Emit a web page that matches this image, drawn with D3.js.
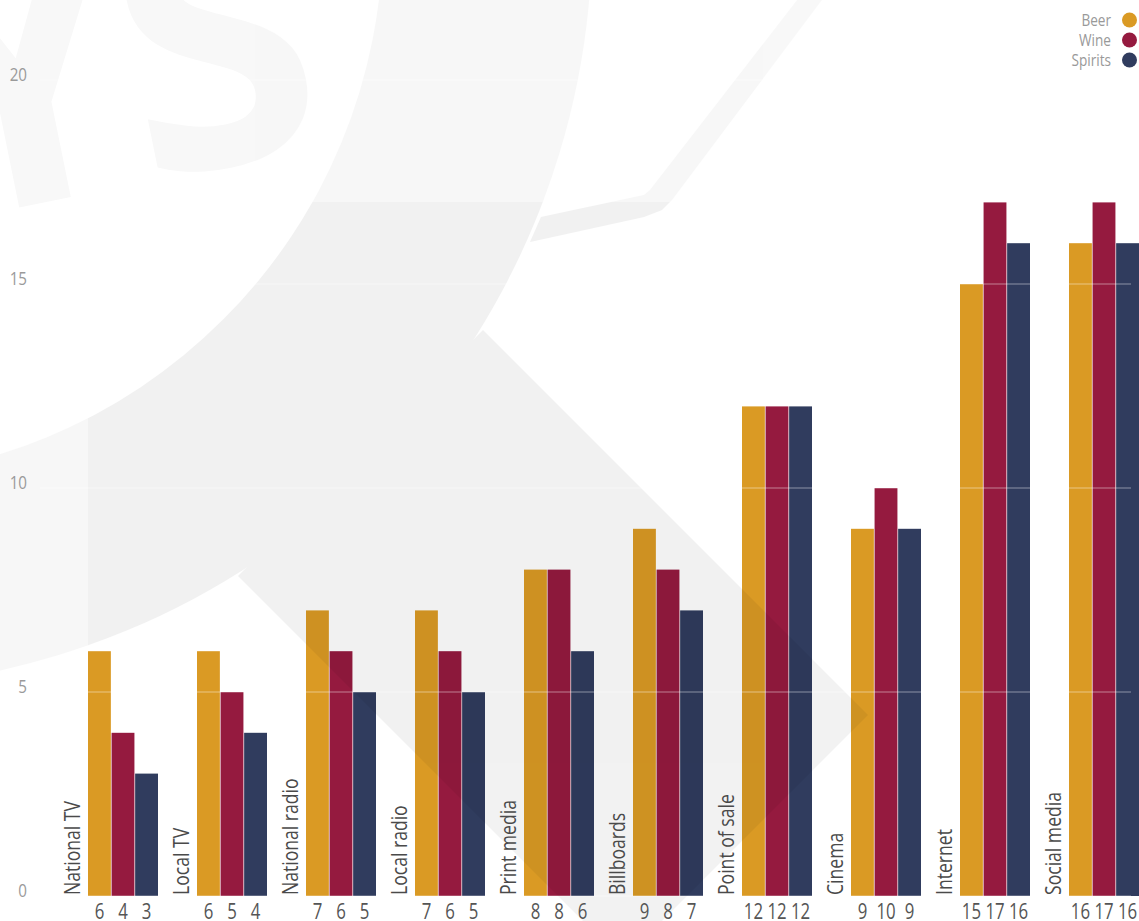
<!DOCTYPE html>
<html>
<head>
<meta charset="utf-8">
<script src="https://cdn.jsdelivr.net/npm/d3@7"></script>
<style>
  html, body { margin: 0; padding: 0; background: #fff; }
  svg { display: block; font-family: "Open Sans", "Noto Sans", sans-serif; }
</style>
</head>
<body>
<script>
/* DATA */
var categories = ["National TV", "Local TV", "National radio", "Local radio", "Print media",
                  "Billboards", "Point of sale", "Cinema", "Internet", "Social media"];
var seriesNames = ["Beer", "Wine", "Spirits"];
var beer    = [6, 6, 7, 7, 8, 9, 12, 9, 15, 16];
var wine    = [4, 5, 6, 6, 8, 8, 12, 10, 17, 17];
var spirits = [3, 4, 5, 5, 6, 7, 12, 9, 16, 16];
var yTicks  = [0, 5, 10, 15, 20];
var colors  = ["#da9a24", "#951a3f", "#303c5e"];

/* GLOBALS */
var width = 1139, height = 921;
var condense = 0.8;   // fonts are narrower in the original

var svg = d3.select("body").append("svg")
  .attr("width", width)
  .attr("height", height);

// scales
var x0 = d3.scaleBand()
  .domain(categories)
  .range([49, width]);

var x1 = d3.scaleBand()
  .domain(seriesNames)
  .range([39, x0.step()])
  .paddingInner(0.03);

var y = d3.scaleLinear()
  .domain([0, 20])
  .range([896, 80]);

var rows = categories.map(function (c, i) {
  return { cat: c, values: [beer[i], wine[i], spirits[i]] };
});

// helper for narrow text
function label(g, x, yy, txt, rot) {
  return g.append("text")
    .attr("transform", "translate(" + x + "," + yy + ")" + (rot ? " rotate(" + rot + ")" : "") + " scale(" + condense + ",1)")
    .text(txt);
}

/* BARS */
var groups = svg.append("g").selectAll("g")
  .data(rows)
  .enter().append("g")
  .attr("transform", function (d) { return "translate(" + x0(d.cat) + ",0)"; });

groups.selectAll("rect")
  .data(function (d) { return d.values.map(function (v, k) { return { s: seriesNames[k], v: v, k: k }; }); })
  .enter().append("rect")
  .attr("x", function (d) { return x1(d.s); })
  .attr("width", x1.bandwidth())
  .attr("y", function (d) { return y(d.v); })
  .attr("height", function (d) { return y(0) - y(d.v); })
  .attr("fill", function (d) { return colors[d.k]; });

/* WATERMARK (logo drawn faintly over everything) */
var defs = svg.append("defs");
defs.append("clipPath").attr("id", "inRect")
  .append("rect").attr("x", 88).attr("y", 202).attr("width", width).attr("height", height);
defs.append("clipPath").attr("id", "outRect")
  .append("path")
  .attr("clip-rule", "evenodd")
  .attr("d", "M0,0H" + width + "V" + height + "H0Z M88,202H" + (width + 10) + "V" + (height + 10) + "H88Z");

var cx = -162, cy = -66, rOut = 754, rIn = 545;
var ringPath = d3.path();
ringPath.moveTo(cx + rOut, cy); ringPath.arc(cx, cy, rOut, 0, 2 * Math.PI);
ringPath.moveTo(cx + rIn, cy);  ringPath.arc(cx, cy, rIn, 0, 2 * Math.PI);

var chevron = [[483, 330], [868, 715], [662, 921], [583, 921], [238, 576]];
var stroke = [[541, 217], [644, 195], [650, 190], [797, 0], [822, 0], [672, 200], [662, 210], [644, 217], [530, 242]];

function drawLogo(g) {
  g.append("path").attr("d", ringPath.toString()).attr("fill-rule", "evenodd");
  g.append("path").attr("d", d3.line()(chevron) + "Z");
  g.append("path").attr("d", d3.line()(stroke) + "Z");
  g.append("text")
    .attr("transform", "translate(-62,224) rotate(-11.5)")
    .attr("font-family", "Open Sans")
    .attr("font-weight", "bold")
    .attr("font-size", 350)
    .attr("letter-spacing", -8)
    .text("YS");
}
drawLogo(svg.append("g").attr("clip-path", "url(#outRect)").attr("opacity", 0.027));
drawLogo(svg.append("g").attr("clip-path", "url(#inRect)").attr("opacity", 0.05));

/* GRIDLINES over the bars */
svg.append("g").selectAll("line")
  .data(yTicks)
  .enter().append("line")
  .attr("x1", 40).attr("x2", 1131)
  .attr("y1", function (d) { return y(d); })
  .attr("y2", function (d) { return y(d); })
  .attr("stroke", "rgba(255,255,255,0.45)")
  .attr("stroke-width", 1.2);

/* Y LABELS */
var yAxis = svg.append("g")
  .attr("fill", "#9a9a9a")
  .attr("font-size", 19)
  .attr("text-anchor", "end");
yTicks.forEach(function (t) { label(yAxis, 27, y(t) + 1, t); });

/* CATEGORY LABELS (rotated) */
var catG = svg.append("g")
  .attr("fill", "#4a4a4a")
  .attr("font-size", 22);
categories.forEach(function (c) { label(catG, x0(c) + 31, 895, c, -90); });

/* VALUE LABELS under the bars */
var valG = svg.append("g")
  .attr("fill", "#555")
  .attr("font-size", 21)
  .attr("text-anchor", "middle");
rows.forEach(function (r) {
  r.values.forEach(function (v, k) {
    label(valG, x0(r.cat) + x1(seriesNames[k]) + x1.bandwidth() / 2, 919, v);
  });
});

/* LEGEND */
var legend = svg.append("g");
seriesNames.forEach(function (s, k) {
  var ly = 20 + k * 20;
  legend.append("circle")
    .attr("cx", 1129.5).attr("cy", ly).attr("r", 7.5)
    .attr("fill", colors[k]);
  label(legend, 1111, ly + 6, s)
    .attr("fill", "#999")
    .attr("font-size", 17)
    .attr("text-anchor", "end");
});
</script>
</body>
</html>
